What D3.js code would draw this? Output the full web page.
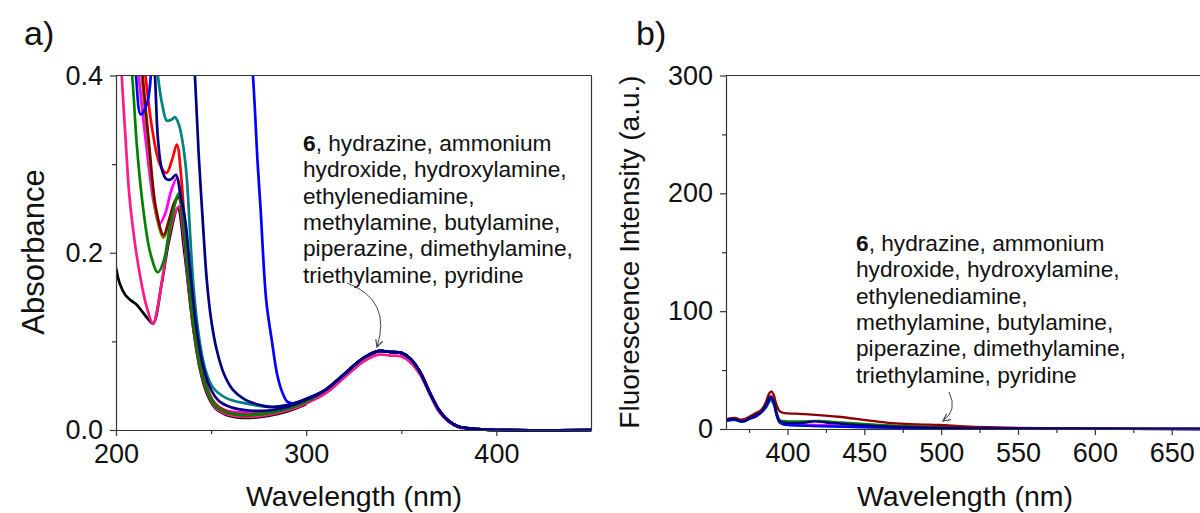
<!DOCTYPE html>
<html>
<head>
<meta charset="utf-8">
<script src="https://cdn.jsdelivr.net/npm/d3@7"></script>
<style>
  body { margin: 0; background: #fff; }
  svg { display: block; font-family: "Liberation Sans", Arial, sans-serif; }
</style>
</head>
<body>
<div id="chart"></div>
<script>
// panel a: absorbance spectra, [wavelength nm, absorbance]
const tailA = [[310,0.045],[320,0.063],[330,0.081],[338,0.089],[344,0.088],[350,0.087],[355,0.080],[360,0.065],[365,0.042],[370,0.022],[375,0.010],[380,0.004],[390,0.001],[400,0],[450,0]];
const tailPink = [[310,0.041],[320,0.059],[330,0.077],[338,0.085],[344,0.084],[350,0.083],[355,0.076],[360,0.062],[365,0.040],[370,0.020],[375,0.009],[380,0.003],[390,0.001],[400,0],[450,0]];

const absBlack   = [[200,0.183],[202,0.165],[205,0.152],[208,0.146],[211,0.141],[214,0.133],[217,0.125],[219.5,0.12],[224,0.165],[228,0.215],[232.5,0.25],[236,0.2],[240,0.125],[244,0.07],[248,0.04],[252,0.025],[258,0.017],[265,0.014],[272,0.014],[280,0.016],[290,0.021],[300,0.029]];
const absPink    = [[202,0.45],[203,0.40],[205,0.33],[207,0.265],[210,0.21],[213,0.17],[216,0.14],[219.5,0.12],[222,0.14],[225,0.18],[228,0.22],[231,0.245],[233,0.252],[235.5,0.22],[238,0.165],[241,0.11],[244,0.072],[248,0.042],[252,0.026],[258,0.018],[265,0.015],[272,0.015],[280,0.017],[290,0.022],[300,0.03]];
const absGreen   = [[206,0.45],[208.5,0.4],[211,0.32],[214,0.255],[218,0.2],[222,0.178],[225,0.19],[228,0.225],[231,0.255],[233,0.267],[235.5,0.235],[238,0.175],[241,0.115],[244,0.075],[248,0.045],[252,0.028],[258,0.02],[265,0.017],[272,0.017],[280,0.019],[290,0.024],[300,0.032]];
const absOlive   = [[211,0.45],[213.5,0.4],[217,0.32],[221,0.245],[225,0.217],[228,0.235],[231,0.258],[233,0.265],[235.5,0.233],[238,0.172],[241,0.113],[244,0.074],[248,0.044],[252,0.028],[258,0.02],[265,0.017],[272,0.017],[280,0.019],[290,0.024],[300,0.032]];
const absMaroon  = [[212,0.45],[214,0.4],[217.5,0.32],[221,0.25],[225,0.22],[228,0.238],[231,0.258],[233,0.262],[235.5,0.23],[238,0.17],[241,0.112],[244,0.074],[248,0.044],[252,0.028],[258,0.02],[265,0.017],[272,0.017],[280,0.019],[290,0.024],[300,0.032]];
const absMagenta = [[210,0.45],[212,0.4],[216,0.32],[220,0.255],[223,0.233],[226,0.245],[229,0.27],[232,0.284],[234.5,0.25],[237,0.19],[240,0.13],[244,0.078],[248,0.046],[252,0.03],[258,0.022],[265,0.02],[272,0.02],[280,0.021],[290,0.025],[300,0.032]];
const absRed     = [[213,0.45],[215.5,0.4],[219,0.34],[223,0.3],[226.5,0.29],[229.5,0.305],[232,0.322],[234.5,0.28],[237,0.2],[240,0.13],[244,0.078],[248,0.047],[252,0.03],[258,0.021],[265,0.018],[272,0.018],[280,0.02],[290,0.025],[300,0.033]];
const absNavy1   = [[219,0.45],[220.5,0.4],[222,0.33],[224,0.295],[226.5,0.283],[229,0.283],[231.5,0.288],[234,0.265],[236.5,0.235],[239,0.18],[242,0.12],[245,0.08],[249,0.05],[254,0.033],[260,0.026],[270,0.022],[280,0.022],[290,0.026],[300,0.034]];
const absTeal    = [[220,0.45],[222,0.4],[224.5,0.365],[226.7,0.349],[229,0.35],[231,0.353],[233,0.345],[235,0.325],[237,0.29],[239,0.22],[241,0.155],[244,0.1],[247,0.068],[251,0.048],[258,0.036],[268,0.03],[282,0.026],[292,0.028],[300,0.035]];
const absNavy2   = [[240,0.45],[241.5,0.4],[243.5,0.31],[245.5,0.24],[247.7,0.17],[250,0.125],[253,0.09],[257,0.062],[261.6,0.045],[268,0.034],[276,0.028],[281,0.026],[290,0.028],[300,0.035]];
const absBlue    = [[208.5,0.45],[210.5,0.4],[213,0.356],[216.5,0.37],[219,0.42],[222,0.5],[230,0.6],[260,0.6],[270,0.45],[272,0.4],[274.5,0.3],[276,0.25],[279,0.146],[282,0.1],[284.6,0.064],[287,0.045],[290,0.032],[293,0.03],[300,0.035]];

// panel b: fluorescence spectra, [wavelength nm, intensity a.u.]
const flMaroon  = [[360,8],[363,9],[366,9.5],[369,8],[372,8.5],[376,11],[380,14],[383,16],[386,23],[388,30],[389.5,32],[391,29],[393,20],[395,15],[398,13.5],[405,13],[418,12],[433,10.4],[451,7.6],[468,5],[485,4],[499,3.4],[515,2.2],[530,1.5],[550,0.9],[580,0.5],[620,0.2],[680,0]];
const flNavy    = [[360,7.5],[364,8.5],[368,7],[372,6.5],[376,9.5],[380,12],[383,14],[386,20],[388,26],[389.5,27],[391,23],[393,12],[395,6.5],[398,5.5],[405,5],[412,5.5],[418,6.5],[425,5.5],[440,4],[460,2.5],[480,1.6],[500,1],[530,0.5],[580,0.2],[680,0]];
const flBlue    = [[360,7],[366,8],[370,6.5],[376,9],[380,11],[386,19],[388.5,25],[390,25.5],[392,18],[394,8],[397,4],[405,3],[420,2.5],[440,1.8],[470,1],[510,0.4],[580,0.1],[680,0]];
const flGreen   = [[360,8],[366,8.5],[370,7],[376,10],[380,12.5],[386,21],[389,27.5],[391,24],[393,14],[395,7.5],[400,6.5],[410,6.5],[420,6.8],[435,5.5],[450,4.3],[470,2.8],[500,1.5],[540,0.6],[600,0.2],[680,0]];
const flTeal    = [[360,7],[366,7.5],[370,6],[376,9],[380,11],[386,18],[389,24],[391,21],[393,11],[395,5],[400,3.5],[420,2.5],[450,1.5],[500,0.6],[560,0.2],[680,0]];
const flMagenta = [[360,8.5],[366,9],[370,7.5],[376,10],[380,13],[386,21],[389,28],[391,25],[393,13],[396,6],[402,4.5],[420,3.5],[450,2.2],[500,1],[560,0.3],[680,0]];

const ticksAx = [200, 300, 400], minorAx = [250, 350];
const ticksAy = [0, 0.2, 0.4], minorAy = [0.1, 0.3];
const ticksBx = [400, 450, 500, 550, 600, 650], minorBx = [375, 425, 475, 525, 575, 625, 675];
const ticksBy = [0, 100, 200, 300], minorBy = [50, 150, 250];

const noteLines = ["hydroxide, hydroxylamine,", "ethylenediamine,", "methylamine, butylamine,", "piperazine, dimethylamine,", "triethylamine, pyridine"];

const absSeries = [
  {d: absBlack, c: "#000000"},
  {d: absPink.concat(tailPink), c: "#ff1a8c"},
  {d: absMagenta.concat(tailA), c: "#ff00ff"},
  {d: absRed.concat(tailA), c: "#ff0000"},
  {d: absOlive.concat(tailA), c: "#808000"},
  {d: absMaroon.concat(tailA), c: "#800000"},
  {d: absGreen.concat(tailA), c: "#008000"},
  {d: absTeal.concat(tailA), c: "#008080"},
  {d: absBlue.concat(tailA), c: "#0000ff"},
  {d: absNavy1.concat(tailA), c: "#000080"},
  {d: absNavy2.concat(tailA), c: "#000080"}
];
const flSeries = [
  {d: flMagenta, c: "#ff00ff"},
  {d: flTeal, c: "#008080"},
  {d: flGreen, c: "#008000"},
  {d: flMaroon, c: "#8b0000"},
  {d: flBlue, c: "#0000ff"},
  {d: flNavy, c: "#000080"}
];

const svg = d3.select("#chart").append("svg")
  .attr("width", 1200).attr("height", 513);

const defs = svg.append("defs");
defs.append("marker").attr("id", "head")
  .attr("viewBox", "0 0 10 10").attr("refX", 9).attr("refY", 5)
  .attr("markerWidth", 9).attr("markerHeight", 9).attr("orient", "auto")
  .attr("markerUnits", "userSpaceOnUse")
  .append("path").attr("d", "M1,1 L9,5 L1,9")
  .attr("fill", "none").attr("stroke", "#444").attr("stroke-width", 1.3);

const axisColor = "#333";
const fam = "Liberation Sans, Arial, sans-serif";

function drawPanel(o) {
  const x = d3.scaleLinear().domain(o.xd).range(o.xr);
  const y = d3.scaleLinear().domain(o.yd).range(o.yr);
  const g = svg.append("g");

  defs.append("clipPath").attr("id", o.id)
    .append("rect").attr("x", o.xr[0]).attr("y", o.yr[1])
    .attr("width", o.xr[1] - o.xr[0]).attr("height", o.yr[0] - o.yr[1] + 2);

  const line = d3.line().x(d => x(d[0])).y(d => y(d[1])).curve(d3.curveCatmullRom);
  g.append("g").attr("clip-path", `url(#${o.id})`)
    .selectAll("path").data(o.series).join("path")
    .attr("d", s => line(s.d))
    .attr("fill", "none").attr("stroke", s => s.c)
    .attr("stroke-width", o.lw).attr("stroke-linejoin", "round");

  // frame
  g.append("line").attr("x1", o.xr[0]).attr("x2", o.frameRight)
    .attr("y1", o.yr[1]).attr("y2", o.yr[1]).attr("stroke", axisColor).attr("stroke-width", 1.2);
  if (o.rightBorder) {
    g.append("line").attr("x1", o.xr[1]).attr("x2", o.xr[1])
      .attr("y1", o.yr[1]).attr("y2", o.yr[0]).attr("stroke", axisColor).attr("stroke-width", 1.2);
  }

  const ax = g.append("g").attr("transform", `translate(0,${o.yr[0]})`)
    .call(d3.axisBottom(x).tickValues(o.xt).tickFormat(o.xf).tickSize(6).tickSizeOuter(0).tickPadding(8));
  g.append("g").attr("transform", `translate(0,${o.yr[0]})`)
    .call(d3.axisBottom(x).tickValues(o.xm).tickFormat("").tickSize(4).tickSizeOuter(0))
    .select(".domain").remove();
  const ay = g.append("g").attr("transform", `translate(${o.xr[0]},0)`)
    .call(d3.axisLeft(y).tickValues(o.yt).tickFormat(o.yf).tickSize(6).tickSizeOuter(0).tickPadding(7));
  g.append("g").attr("transform", `translate(${o.xr[0]},0)`)
    .call(d3.axisLeft(y).tickValues(o.ym).tickFormat("").tickSize(4).tickSizeOuter(0))
    .select(".domain").remove();

  g.selectAll(".domain, .tick line").attr("stroke", axisColor).attr("stroke-width", 1.2);
  ax.selectAll("text").attr("font-size", 27).attr("fill", "#111").attr("font-family", fam);
  ay.selectAll("text").attr("font-size", 27).attr("fill", "#111").attr("font-family", fam);

  g.append("text").attr("x", o.xTitleX).attr("y", 506)
    .attr("text-anchor", "middle").attr("font-size", 28.5).attr("fill", "#111")
    .text("Wavelength (nm)");
  g.append("text").attr("transform", `translate(${o.yTitleX},252) rotate(-90)`)
    .attr("text-anchor", "middle").attr("font-size", o.yTitleSize).attr("fill", "#111")
    .text(o.yTitle);
  g.append("text").attr("x", o.labelX).attr("y", 45)
    .attr("font-size", 34).attr("fill", "#111").text(o.label);

  // annotation
  const t = g.append("text").attr("font-size", 22.7).attr("fill", "#111");
  const first = t.append("tspan").attr("x", o.noteX).attr("y", o.noteY);
  first.append("tspan").attr("font-weight", "bold").text("6");
  t.append("tspan").text(", hydrazine, ammonium");
  noteLines.forEach((s, i) => {
    t.append("tspan").attr("x", o.noteX).attr("y", o.noteY + 26.3 * (i + 1)).text(s);
  });

  g.append("path").attr("d", o.arrow)
    .attr("fill", "none").attr("stroke", "#444").attr("stroke-width", 1)
    .attr("marker-end", "url(#head)");
}

drawPanel({
  id: "clipA", series: absSeries, lw: 2.7,
  xd: [200, 450], xr: [116, 591.5], yd: [0, 0.4], yr: [430, 75.5],
  xt: ticksAx, xm: minorAx, yt: ticksAy, ym: minorAy,
  xf: d3.format("d"), yf: d3.format(".1f"),
  frameRight: 591.5, rightBorder: true,
  xTitleX: 354, yTitleX: 44, yTitle: "Absorbance", yTitleSize: 31,
  label: "a)", labelX: 24,
  noteX: 303, noteY: 151,
  arrow: "M347,283 Q392,300 377,347"
});

drawPanel({
  id: "clipB", series: flSeries, lw: 2.3,
  xd: [360, 671], xr: [726, 1204], yd: [0, 300], yr: [429, 75.5],
  xt: ticksBx, xm: minorBx, yt: ticksBy, ym: minorBy,
  xf: d3.format("d"), yf: d3.format("d"),
  frameRight: 1200, rightBorder: false,
  xTitleX: 965, yTitleX: 639, yTitle: "Fluorescence Intensity (a.u.)", yTitleSize: 28,
  label: "b)", labelX: 636,
  noteX: 856, noteY: 251,
  arrow: "M949,392 Q958,410 943,421"
});
</script>
</body>
</html>
